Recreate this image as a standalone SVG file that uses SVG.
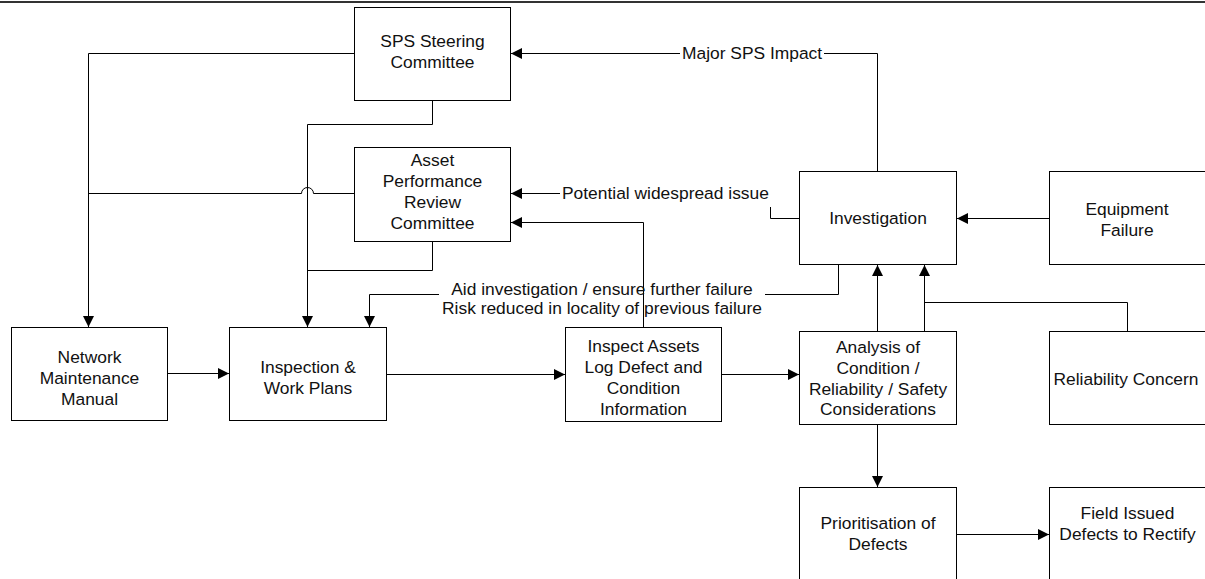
<svg xmlns="http://www.w3.org/2000/svg" width="1205" height="579" viewBox="0 0 1205 579">
<style>
.box{fill:#fff;stroke:#000;stroke-width:1}
.ln{fill:none;stroke:#000;stroke-width:1}
.arr{marker-end:url(#ah)}
text{font-family:"Liberation Sans",Arial,sans-serif;font-size:17.4px;fill:#111}
.c{text-anchor:middle}
</style>
<defs>
<marker id="ah" markerUnits="userSpaceOnUse" markerWidth="11" markerHeight="11" refX="11" refY="5.5" orient="auto">
<path d="M0,0 L11,5.5 L0,11 z" fill="#000"/>
</marker>
</defs>
<rect x="0" y="1" width="1205" height="2" fill="#333"/>
<g id="connectors">
<path class="ln arr" d="M354.5 53.5 H88.5 V327"/>
<path class="ln" d="M354.5 193.5 H313.5 A6 6 0 0 0 301.5 193.5 H88.5"/>
<path class="ln arr" d="M432.5 100.5 V124.5 H307.5 V327"/>
<path class="ln" d="M432.5 241.5 V270.5 H307.5"/>
<path class="ln" d="M799.5 218.5 H770.5 V207"/>
<path class="ln arr" d="M560 193.5 H511"/>
<path class="ln arr" d="M643.5 327.5 V222.5 H511"/>
<path class="ln" d="M877.5 171.5 V53.5 H824"/>
<path class="ln arr" d="M680 53.5 H511"/>
<path class="ln arr" d="M1049.5 218.5 H957"/>
<path class="ln" d="M838.5 264.5 V294.5 H765"/>
<path class="ln arr" d="M439 294.5 H369.5 V327"/>
<path class="ln arr" d="M167.5 373.5 H229"/>
<path class="ln arr" d="M386.5 374.5 H565"/>
<path class="ln arr" d="M721.5 374.5 H799"/>
<path class="ln arr" d="M877.5 331.5 V265"/>
<path class="ln arr" d="M924.5 331.5 V265"/>
<path class="ln" d="M1127.5 331.5 V302.5 H924.5"/>
<path class="ln arr" d="M877.5 424.5 V487"/>
<path class="ln arr" d="M956.5 534.5 H1049"/>
<text x="682" y="59">Major SPS Impact</text>
<text x="562" y="199">Potential widespread issue</text>
<text class="c" x="602" y="295">Aid investigation / ensure further failure</text>
<text class="c" x="602" y="314">Risk reduced in locality of previous failure</text>
</g>
<g id="sps">
<rect class="box" x="354.5" y="7.5" width="156" height="93"/>
<text class="c" x="432.5" y="47">SPS Steering</text>
<text class="c" x="432.5" y="68">Committee</text>
</g>
<g id="aprc">
<rect class="box" x="354.5" y="147.5" width="156" height="94"/>
<text class="c" x="432.5" y="166">Asset</text>
<text class="c" x="432.5" y="187">Performance</text>
<text class="c" x="432.5" y="208">Review</text>
<text class="c" x="432.5" y="229">Committee</text>
</g>
<g id="investigation">
<rect class="box" x="799.5" y="171.5" width="157" height="93"/>
<text class="c" x="878" y="224">Investigation</text>
</g>
<g id="equipment">
<rect class="box" x="1049.5" y="171.5" width="200" height="93"/>
<text class="c" x="1127" y="215">Equipment</text>
<text class="c" x="1127" y="236">Failure</text>
</g>
<g id="nmm">
<rect class="box" x="11.5" y="327.5" width="156" height="93"/>
<text class="c" x="89.5" y="363">Network</text>
<text class="c" x="89.5" y="384">Maintenance</text>
<text class="c" x="89.5" y="405">Manual</text>
</g>
<g id="inspection">
<rect class="box" x="229.5" y="327.5" width="157" height="93"/>
<text class="c" x="308" y="373">Inspection &amp;</text>
<text class="c" x="308" y="394">Work Plans</text>
</g>
<g id="inspect-assets">
<rect class="box" x="565.5" y="327.5" width="156" height="94"/>
<text class="c" x="643.5" y="352">Inspect Assets</text>
<text class="c" x="643.5" y="373">Log Defect and</text>
<text class="c" x="643.5" y="394">Condition</text>
<text class="c" x="643.5" y="415">Information</text>
</g>
<g id="analysis">
<rect class="box" x="799.5" y="331.5" width="157" height="93"/>
<text class="c" x="878" y="353">Analysis of</text>
<text class="c" x="878" y="374">Condition /</text>
<text class="c" x="878" y="395">Reliability / Safety</text>
<text class="c" x="878" y="415">Considerations</text>
</g>
<g id="reliability">
<rect class="box" x="1049.5" y="331.5" width="200" height="93"/>
<text class="c" x="1126" y="385">Reliability Concern</text>
</g>
<g id="prioritisation">
<rect class="box" x="799.5" y="487.5" width="157" height="120"/>
<text class="c" x="878" y="529">Prioritisation of</text>
<text class="c" x="878" y="550">Defects</text>
</g>
<g id="field">
<rect class="box" x="1049.5" y="487.5" width="200" height="120"/>
<text class="c" x="1127.5" y="519">Field Issued</text>
<text class="c" x="1127.5" y="540">Defects to Rectify</text>
</g>
</svg>
